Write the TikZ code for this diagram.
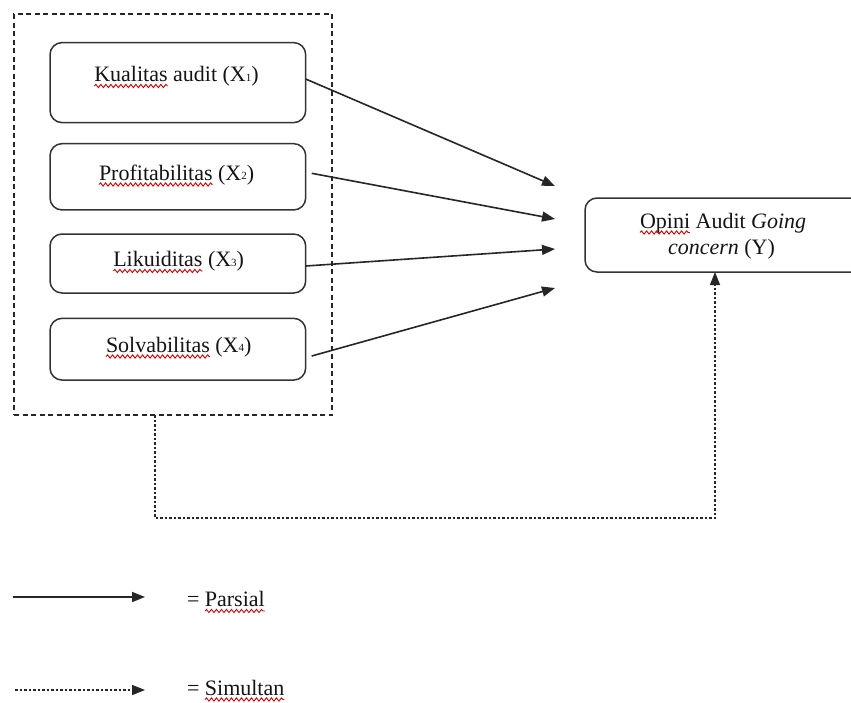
\documentclass[tikz,border=0pt]{standalone}
\usepackage{fontspec}
\setmainfont{Liberation Serif}
\usetikzlibrary{arrows.meta,decorations.pathmorphing}
\newcommand\subdig[1]{\raisebox{0.5pt}{\fontsize{11}{11}\selectfont #1}}
\begin{document}
\begin{tikzpicture}[x=1pt,y=-1pt,
  every node/.style={font=\fontsize{22}{26}\selectfont, inner sep=0pt, outer sep=0pt, text=black!92},
  varbox/.style={draw=black!80, line width=1.5pt, rounded corners=12pt, minimum width=255.7pt},
  grpbox/.style={draw=black!85, line width=1.3pt, dash pattern=on 5pt off 3.5pt, minimum width=318pt, minimum height=401pt},
  txt/.style={anchor=base west},
  parsial/.style={draw=black!85, line width=1.6pt, -{Triangle[length=13pt,width=10pt]}},
  simultan/.style={draw=black!85, line width=1.4pt, dash pattern=on 2.5pt off 2pt, -{Triangle[length=13pt,width=10pt]}},
  squig/.style={draw=red!85!black, line width=0.9pt, decorate, decoration={snake, amplitude=1.6pt, segment length=5pt}}
]
\useasboundingbox (0,0) rectangle (851,702);
\clip (0,0) rectangle (851,702);
\fill[white] (0,0) rectangle (851,702);

% group box
\node[grpbox] (grp) at (173,214.5) {};

% variable boxes
\node[varbox, minimum height=80pt]   (b1) at (177.85,82.6) {};
\node[varbox, minimum height=66.3pt] (b2) at (177.85,176.8) {};
\node[varbox, minimum height=59pt]   (b3) at (177.85,263.5) {};
\node[varbox, minimum height=61.7pt] (b4) at (177.85,349.2) {};
\node[varbox, minimum width=295pt, minimum height=74pt] (ybox) at (732.5,235) {};

% texts
\node[txt] (w1) at (94.3,81.5) {Kualitas};
\node[txt] (r1) at (w1.base east) {\ audit (X\subdig{1})};
\node[txt] (w2) at (99,180) {Profitabilitas};
\node[txt] (r2) at (w2.base east) {\ (X\subdig{2})};
\node[txt] (w3) at (113.3,266.5) {Likuiditas};
\node[txt] (r3) at (w3.base east) {\ (X\subdig{3})};
\node[txt] (w4) at (106,352) {Solvabilitas};
\node[txt] (r4) at (w4.base east) {\ (X\subdig{4})};
\node[txt] (w5) at (640,228) {Opini};
\node[txt] (r5) at (w5.base east) {\ Audit \textit{Going}};
\node[txt] (r6) at (668,254) {\textit{concern} (Y)};

\foreach \w in {w1,w2,w3,w4,w5}
  \draw[squig] ([yshift=-4.5pt]\w.base west) -- ([yshift=-4.5pt]\w.base east);

% partial arrows
\coordinate (t1) at (555,186);
\coordinate (t2) at (555,219);
\coordinate (t3) at (555,249);
\coordinate (t4) at (555,288);
\draw[parsial] ([yshift=3.6pt]b1.east) -- (t1);
\draw[parsial] ([xshift=6pt,yshift=3.5pt]b2.east) -- (t2);
\draw[parsial] ([yshift=-2.5pt]b3.east) -- (t3);
\draw[parsial] ([xshift=6pt,yshift=-6.8pt]b4.east) -- (t4);

% simultaneous arrow
\coordinate (d1) at (155,518);
\coordinate (d2) at (715,518);
\draw[simultan] (grp.south -| d1) -- (d1) -- (d2) -- (d2 |- ybox.south);

% legend
\coordinate (la1) at (12.7,597);
\coordinate (la2) at (145,597);
\coordinate (lb1) at (15,690);
\coordinate (lb2) at (145,690);
\draw[parsial] (la1) -- (la2);
\draw[simultan] (lb1) -- (lb2);
\node[txt] (e1) at (187,606.5) {=};
\node[txt] (w6) at ([xshift=5.5pt]e1.base east) {Parsial};
\node[txt] (e2) at (187,695) {=};
\node[txt] (w7) at ([xshift=5.5pt]e2.base east) {Simultan};
\foreach \w in {w6,w7}
  \draw[squig] ([yshift=-4.5pt]\w.base west) -- ([yshift=-4.5pt]\w.base east);
\end{tikzpicture}
\end{document}
